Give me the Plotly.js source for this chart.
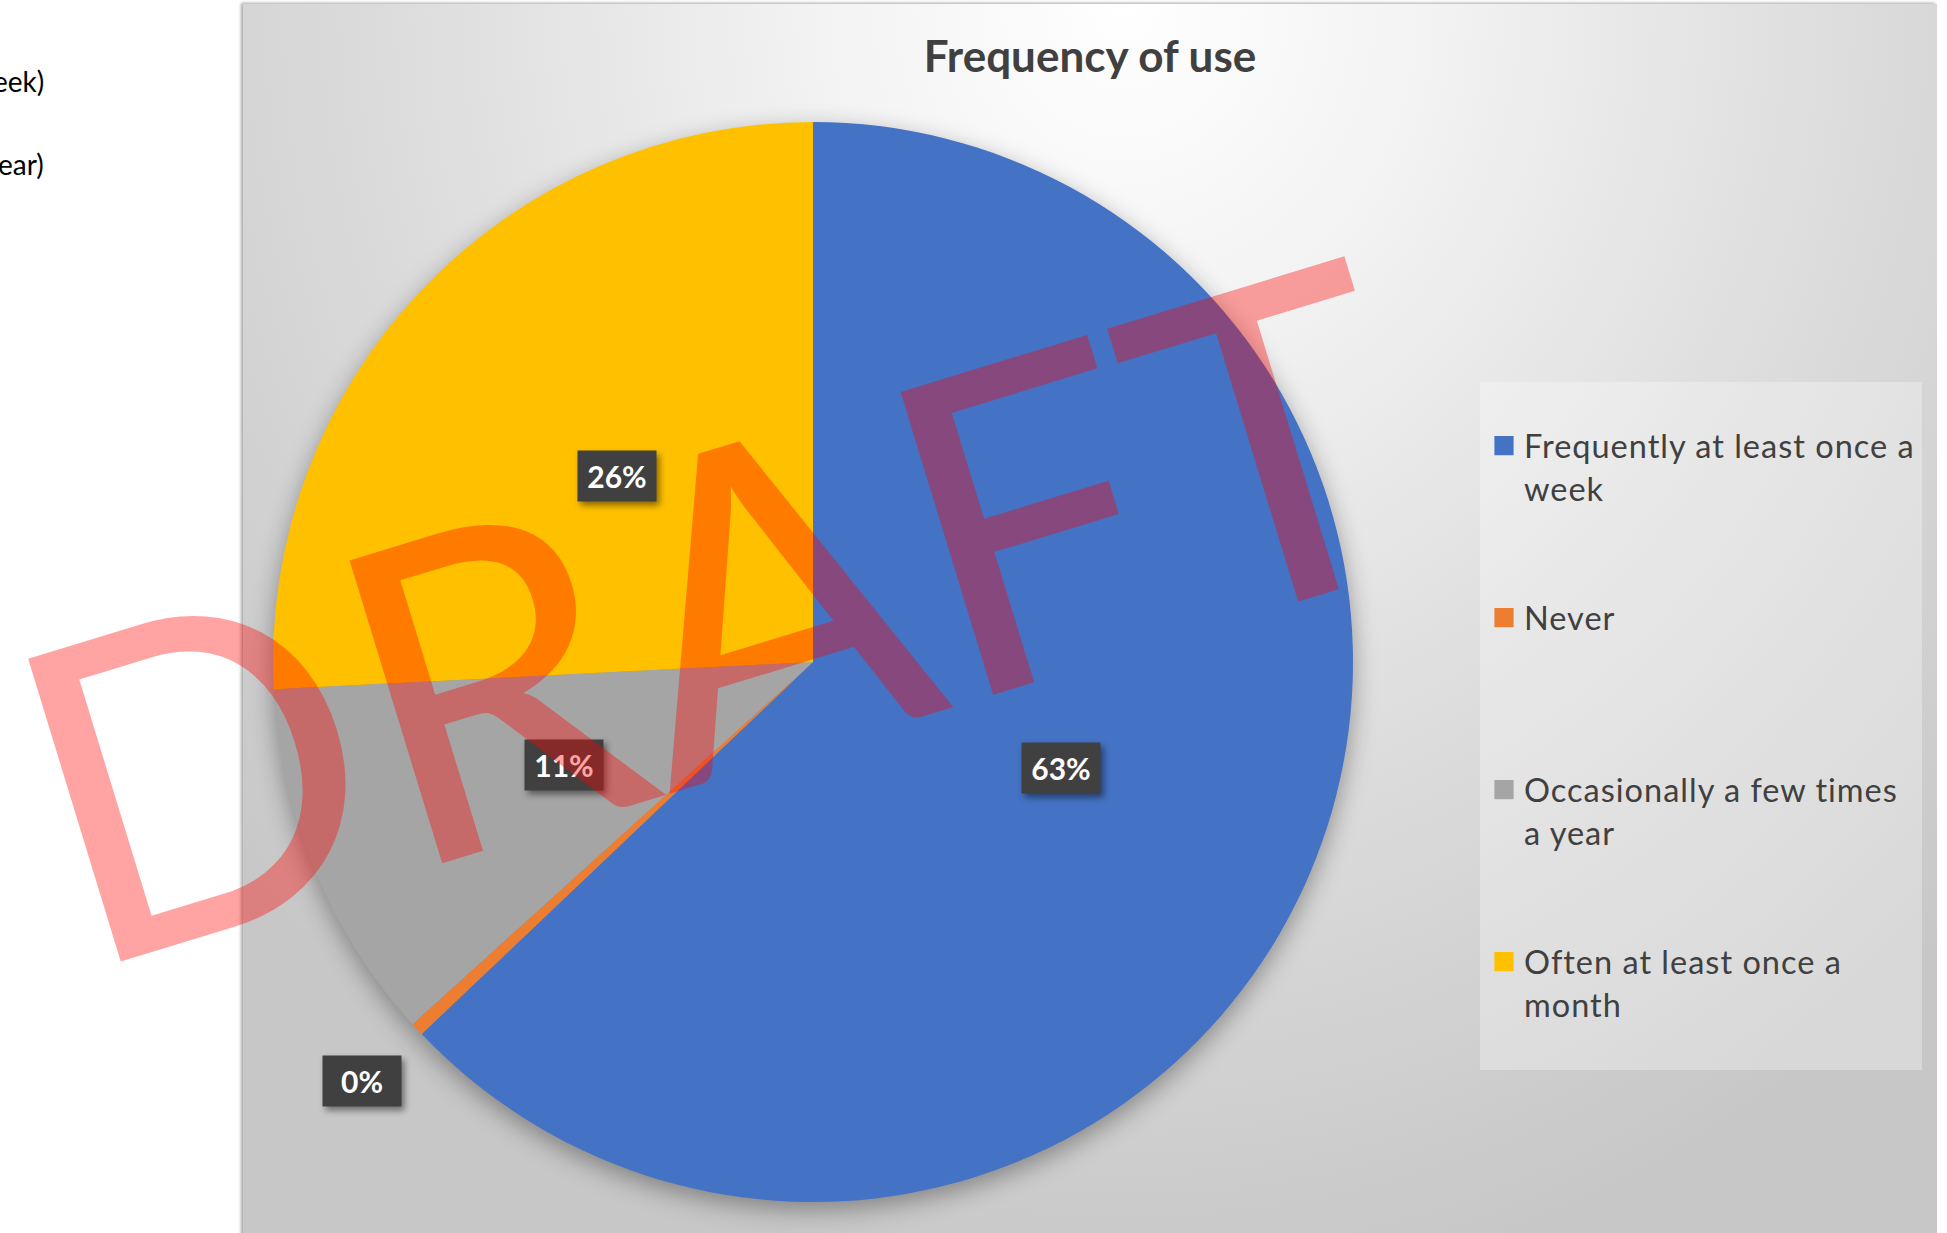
<!DOCTYPE html>
<html>
<head>
<meta charset="utf-8">
<script src="https://cdn.plot.ly/plotly-3.0.1.min.js"></script>
<style>
html,body{margin:0;padding:0;background:#ffffff;overflow:hidden;}
#frame{position:absolute;left:243px;top:4px;width:1694px;height:1240px;
  background:radial-gradient(ellipse 70% 105% at 52% 0%, #ffffff 0%, #f3f3f3 25%, #dcdcdc 62%, #c7c7c7 100%);
  box-shadow:-2px -1px 3px rgba(0,0,0,0.35);}
#chart{position:absolute;left:0;top:0;width:1947px;height:1233px;}
.pielayer{filter:drop-shadow(0px 8px 12px rgba(0,0,0,0.35));}
.annotation rect.bg{filter:drop-shadow(3px 4px 3px rgba(0,0,0,0.45));}
.legendtext{letter-spacing:1px;}
.legendpie{transform:translate(20px,0px) scale(1.6);}
</style>
</head>
<body>
<div id="frame"></div>
<div id="chart"></div>
<script>
// ---- data ----
const categories = ['Frequently at least once a<br>week', 'Never', 'Occasionally a few times<br>a year', 'Often at least once a<br>month'];
const shares = [62.9, 0.4, 10.9, 25.8];
const sliceColors = ['#4472C4', '#ED7D31', '#A5A5A5', '#FFC000'];
const chartTitle = 'Frequency of use';
const watermark = 'DRAFT';
const pageFragments = ['eek)', 'ear)'];

// ---- geometry ----
const W = 1947, H = 1233;
const pieDomain = {x: [273 / W, 1353 / W], y: [31 / H, 1111 / H]};

// legend labels padded to equal line counts so items are evenly spaced
const legendLines = 4;
const legendLabels = categories.map(c => {
  let n = c.split('<br>').length;
  let s = c;
  while (n < legendLines) { s += '<br>\u00a0'; n++; }
  return s;
});

const trace = {
  type: 'pie',
  labels: legendLabels,
  values: shares,
  customdata: categories.map(c => c.replace('<br>', ' ')),
  hovertemplate: '%{customdata}: %{percent}<extra></extra>',
  sort: false,
  direction: 'clockwise',
  rotation: 0,
  textinfo: 'none',
  marker: {colors: sliceColors, line: {width: 0}},
  domain: pieDomain
};

// data labels computed from the values
const total = shares.reduce((a, b) => a + b, 0);
const cxPaper = (pieDomain.x[0] + pieDomain.x[1]) / 2;
const cyPaper = (pieDomain.y[0] + pieDomain.y[1]) / 2;
const rPx = Math.min((pieDomain.x[1] - pieDomain.x[0]) * W, (pieDomain.y[1] - pieDomain.y[0]) * H) / 2;
let cum = 0;
const labelAnns = shares.map(v => {
  const frac = v / total;
  const mid = (cum + frac / 2) * 2 * Math.PI;
  cum += frac;
  const f = frac < 0.02 ? 1.14 : 0.5;
  return {
    xref: 'paper', yref: 'paper',
    x: cxPaper + rPx * f * Math.sin(mid) / W,
    y: cyPaper + rPx * f * Math.cos(mid) / H,
    xanchor: 'center', yanchor: 'middle',
    text: Math.round(frac * 100) + '%',
    showarrow: false,
    bgcolor: '#404040',
    width: 76, height: 48, borderpad: 1,
    font: {family: 'Lato, sans-serif', size: 30, weight: 'bold', color: '#ffffff'}
  };
});

const watermarkAnn = {
  xref: 'paper', yref: 'paper', x: 712 / W, y: 1 - 602 / H,
  xanchor: 'center', yanchor: 'middle', showarrow: false,
  text: watermark, textangle: -17,
  font: {family: 'Lato, sans-serif', size: 442, color: 'rgba(255,0,0,0.36)'}
};

const fragAnns = pageFragments.map((t, i) => ({
  xref: 'paper', yref: 'paper', x: 46 / W, y: 1 - (81 + i * 83) / H,
  xanchor: 'right', yanchor: 'middle', showarrow: false, text: t,
  font: {family: 'Lato, sans-serif', size: 28, color: '#000000'}
}));

const layout = {
  width: W, height: H,
  margin: {l: 0, r: 0, t: 0, b: 0, autoexpand: false},
  paper_bgcolor: 'rgba(0,0,0,0)',
  plot_bgcolor: 'rgba(0,0,0,0)',
  font: {family: 'Lato, sans-serif'},
  title: {
    text: chartTitle, x: 1090 / W, xanchor: 'center', y: 1 - 57 / H, yanchor: 'middle', yref: 'container',
    font: {family: 'Lato, sans-serif', size: 44, weight: 'bold', color: '#404040'}
  },
  showlegend: true,
  legend: {
    x: 1484 / W, xanchor: 'left', y: 1 - 418 / H, yanchor: 'top',
    bgcolor: 'rgba(0,0,0,0)', borderwidth: 0,
    font: {family: 'Lato, sans-serif', size: 32.5, color: '#404040'},
    valign: 'top', itemwidth: 30, traceorder: 'normal'
  },
  shapes: [{
    type: 'rect', xref: 'paper', yref: 'paper', layer: 'below',
    x0: 1480 / W, x1: 1922 / W, y0: 1 - 1070 / H, y1: 1 - 382 / H,
    fillcolor: 'rgba(255,255,255,0.3)', line: {width: 0}
  }],
  annotations: labelAnns.concat([watermarkAnn]).concat(fragAnns)
};

Plotly.newPlot('chart', [trace], layout, {displayModeBar: false});
</script>
</body>
</html>
